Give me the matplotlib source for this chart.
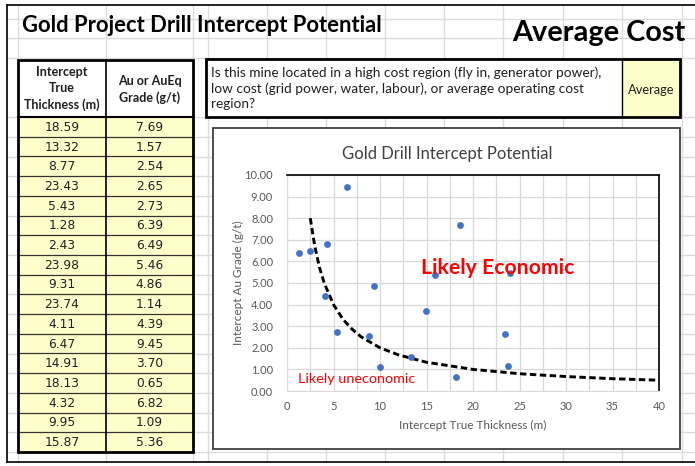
import matplotlib.pyplot as plt
import matplotlib.ticker as ticker
from matplotlib.patches import Rectangle

plt.rcParams['font.family'] = ['Lato', 'DejaVu Sans']

# 表格数据
thickness = [18.59, 13.32, 8.77, 23.43, 5.43, 1.28, 2.43, 23.98, 9.31, 23.74,
             4.11, 6.47, 14.91, 18.13, 4.32, 9.95, 15.87]
grade = [7.69, 1.57, 2.54, 2.65, 2.73, 6.39, 6.49, 5.46, 4.86, 1.14,
         4.39, 9.45, 3.70, 0.65, 6.82, 1.09, 5.36]

# 经济性分界线
cut_x = [2.5, 3, 3.5, 4, 5, 6, 7, 8, 10, 12, 15, 20, 25, 30, 35, 40]
cut_y = [8.0, 6.67, 5.71, 5.0, 4.0, 3.33, 2.86, 2.5, 2.0, 1.67, 1.33, 1.0, 0.8, 0.67, 0.57, 0.5]

x_ticks = [0, 5, 10, 15, 20, 25, 30, 35, 40]
y_ticks = [0, 1, 2, 3, 4, 5, 6, 7, 8, 9, 10]

W, H = 695, 466
fig = plt.figure(figsize=(W / 100, H / 100), dpi=100)
bg = fig.add_axes([0, 0, 1, 1])
bg.set_xlim(0, W)
bg.set_ylim(H, 0)
bg.axis('off')

grid_c = '#dcdcdc'
# 表格网格线
col_lines = [18, 106, 193, 208, 267, 326, 385, 444, 503, 563, 622, 682]
row_lines = [19, 38, 58] + [58 + 19.7 * k for k in range(3, 21)]
bg.vlines(col_lines, 5, 462, color=grid_c, lw=1, zorder=0)
bg.hlines(row_lines, 7, W, color=grid_c, lw=1, zorder=0)

# 外框
bg.plot([7, 7], [5, 462], color='black', lw=1.2, zorder=1)
bg.plot([7, W], [5, 5], color='black', lw=1.2, zorder=1)
bg.plot([7, W], [462, 462], color='black', lw=1.2, zorder=1)

# 标题
bg.text(22, 25, 'Gold Project Drill Intercept Potential', fontsize=15.8, fontweight='bold',
        ha='left', va='center', color='black', zorder=3)
bg.text(685, 33, 'Average Cost', fontsize=20.8, fontweight='bold',
        ha='right', va='center', color='black', zorder=3)

# 左侧表格
t_left, t_mid, t_right = 18, 106, 193
t_top, h_bot = 60, 117
row_h = (452 - h_bot) / len(thickness)
bg.add_patch(Rectangle((t_left, t_top), t_right - t_left, h_bot - t_top,
                       facecolor='white', edgecolor='none', zorder=1))
bg.add_patch(Rectangle((t_left, h_bot), t_right - t_left, row_h * len(thickness),
                       facecolor='#ffffcc', edgecolor='none', zorder=1))
for i in range(1, len(thickness)):
    yy = h_bot + i * row_h
    bg.plot([t_left, t_right], [yy, yy], color='#333333', lw=0.9, zorder=2)
bg.plot([t_left, t_right], [h_bot, h_bot], color='black', lw=1.5, zorder=2)
bg.plot([t_mid, t_mid], [t_top, h_bot + row_h * len(thickness)], color='black', lw=1.2, zorder=2)
bg.add_patch(Rectangle((t_left, t_top), t_right - t_left, h_bot + row_h * len(thickness) - t_top,
                       facecolor='none', edgecolor='black', lw=2, zorder=3))
bg.text((t_left + t_mid) / 2, (t_top + h_bot) / 2, 'Intercept\nTrue\nThickness (m)',
        fontsize=9, fontweight='bold', ha='center', va='center', linespacing=1.4,
        color='#1f1f1f', zorder=3)
bg.text((t_mid + t_right) / 2, (t_top + h_bot) / 2 + 1, 'Au or AuEq\nGrade (g/t)',
        fontsize=9, fontweight='bold', ha='center', va='center', linespacing=1.4,
        color='#1f1f1f', zorder=3)
for i, (a, b) in enumerate(zip(thickness, grade)):
    yy = h_bot + (i + 0.5) * row_h
    bg.text((t_left + t_mid) / 2, yy + 0.5, f'{a:.2f}', fontsize=8.8, ha='center', va='center',
            family=['DejaVu Sans'], color='#1f1f1f', zorder=3)
    bg.text((t_mid + t_right) / 2, yy + 0.5, f'{b:.2f}', fontsize=8.8, ha='center', va='center',
            family=['DejaVu Sans'], color='#1f1f1f', zorder=3)

# 问题框
q_left, q_div, q_right, q_top, q_bot = 206, 622, 680, 59, 117
bg.add_patch(Rectangle((q_left, q_top), q_div - q_left, q_bot - q_top,
                       facecolor='white', edgecolor='none', zorder=1))
bg.add_patch(Rectangle((q_div, q_top), q_right - q_div, q_bot - q_top,
                       facecolor='#ffffcc', edgecolor='none', zorder=1))
bg.plot([q_div, q_div], [q_top, q_bot], color='black', lw=1, zorder=2)
bg.add_patch(Rectangle((q_left, q_top), q_right - q_left, q_bot - q_top,
                       facecolor='none', edgecolor='black', lw=2, zorder=3))
bg.text(211, 88, 'Is this mine located in a high cost region (fly in, generator power),\n'
                 'low cost (grid power, water, labour), or average operating cost\nregion?',
        fontsize=9.8, ha='left', va='center', linespacing=1.33, color='#1f1f1f', zorder=3)
bg.text((q_div + q_right) / 2, 90, 'Average', fontsize=9.3, ha='center', va='center',
        color='#1f1f1f', zorder=3)

# 图表框
bg.add_patch(Rectangle((213, 128), 680 - 213, 449 - 128, facecolor='white',
                       edgecolor='#404040', lw=1.3, zorder=2))
bg.text(447, 154, 'Gold Drill Intercept Potential', fontsize=12, ha='center', va='center',
        color='#404040', zorder=3)

# 散点图
px0, px1, py0, py1 = 287, 659, 175, 391
ax = fig.add_axes([px0 / W, 1 - py1 / H, (px1 - px0) / W, (py1 - py0) / H])
ax.set_zorder(5)
ax.set_facecolor('white')
ax.scatter(thickness, grade, s=24, color='#4472c4', zorder=3, linewidths=0)
ax.plot(cut_x, cut_y, color='black', lw=2.1, linestyle=(0, (2.2, 1.2)), zorder=2)
ax.set_xlim(0, 40)
ax.set_ylim(0, 10)
ax.set_xticks(x_ticks)
ax.set_yticks(y_ticks)
ax.xaxis.set_minor_locator(ticker.MultipleLocator(2.5))
ax.yaxis.set_major_formatter(ticker.FormatStrFormatter('%.2f'))
ax.grid(True, which='both', color='#d9d9d9', lw=0.9, zorder=0)
ax.set_axisbelow(True)
ax.tick_params(which='both', length=0, labelsize=8, labelcolor='#595959')
ax.tick_params(axis='y', pad=10)
ax.tick_params(axis='x', pad=7)
for s in ['left', 'bottom']:
    ax.spines[s].set_color('#d9d9d9')
for s in ['top', 'right']:
    ax.spines[s].set_color('black')
    ax.spines[s].set_linewidth(1.2)
ax.set_xlabel('Intercept True Thickness (m)', fontsize=8.5, color='#595959', labelpad=6)
ax.set_ylabel('Intercept Au Grade (g/t)', fontsize=8.5, color='#595959', labelpad=0)
ax.text(14.4, 5.7, 'Likely Economic', fontsize=15.3, fontweight='bold', color='#ff0000',
        ha='left', va='center', zorder=4)
ax.text(1.2, 0.55, 'Likely uneconomic', fontsize=10.4, color='#ff0000',
        ha='left', va='center', zorder=4)

plt.savefig('out.png', dpi=100)
